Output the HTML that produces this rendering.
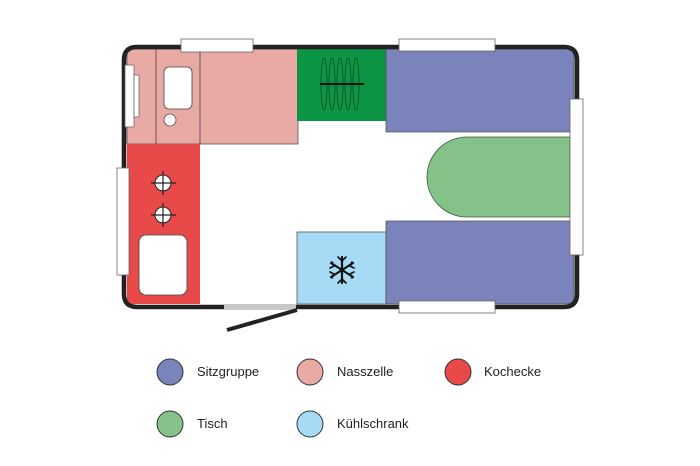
<!DOCTYPE html>
<html><head><meta charset="utf-8"><style>
html,body{margin:0;padding:0;background:#fff;}
svg{display:block;}
text{font-family:"Liberation Sans",sans-serif;font-size:13px;fill:#222;}
</style></head><body>
<svg width="700" height="466" viewBox="0 0 700 466" xmlns="http://www.w3.org/2000/svg">
<rect x="127" y="49" width="171" height="95" fill="#e9a9a5" stroke="#555" stroke-width="0.8"/>
<line x1="156" y1="49" x2="156" y2="144" stroke="#444" stroke-width="0.8"/>
<line x1="200" y1="49" x2="200" y2="144" stroke="#444" stroke-width="0.8"/>
<rect x="164" y="67" width="28" height="42" rx="5" fill="#fff" stroke="#444" stroke-width="0.8"/>
<circle cx="170" cy="120" r="6" fill="#fff" stroke="#444" stroke-width="0.8"/>
<rect x="127" y="144" width="73" height="160" fill="#e84a4a"/>
<circle cx="163" cy="183" r="8" fill="#fff" stroke="#222"/>
<line x1="151" y1="183" x2="176" y2="183" stroke="#222" stroke-width="1.2"/>
<line x1="163" y1="171" x2="163" y2="195" stroke="#222" stroke-width="1.2"/>
<circle cx="163" cy="215" r="8" fill="#fff" stroke="#222"/>
<line x1="151" y1="215" x2="176" y2="215" stroke="#222" stroke-width="1.2"/>
<line x1="163" y1="203" x2="163" y2="227" stroke="#222" stroke-width="1.2"/>
<rect x="139" y="235" width="48" height="60" rx="7" fill="#fff" stroke="#444" stroke-width="0.8"/>
<rect x="297" y="49" width="89" height="72" fill="#0b9444"/>
<g fill="none" stroke="#0a4020" stroke-width="0.7">
<ellipse cx="324" cy="84" rx="3" ry="26"/><ellipse cx="332" cy="84" rx="3" ry="26"/><ellipse cx="340" cy="84" rx="3" ry="26"/><ellipse cx="348" cy="84" rx="3" ry="26"/><ellipse cx="356" cy="84" rx="3" ry="26"/>
</g>
<line x1="320" y1="84" x2="364" y2="84" stroke="#111" stroke-width="2"/>
<rect x="297" y="232" width="89" height="72" fill="#a6daf5" stroke="#555" stroke-width="0.8"/>
<g stroke="#111" stroke-width="2.2" stroke-linecap="round" fill="none">
<line x1="342" y1="257" x2="342" y2="283"/><line x1="331" y1="263" x2="353" y2="277"/><line x1="331" y1="277" x2="353" y2="263"/>
<path d="M338 257 L342 261 L346 257 M338 283 L342 279 L346 283" stroke-width="1.6"/>
<path d="M330 268 L334 266 L332 262 M354 268 L350 266 L352 262 M330 272 L334 274 L332 278 M354 272 L350 274 L352 278" stroke-width="1.6"/>
</g>
<path d="M386 49 H566 Q574 49 574 57 V132 H386 Z" fill="#7a83bb" stroke="#555" stroke-width="0.8"/>
<path d="M386 221 H574 V296 Q574 304 566 304 H386 Z" fill="#7a83bb" stroke="#555" stroke-width="0.8"/>
<path d="M467 137 H570 V217 H467 A40 40 0 0 1 467 137 Z" fill="#84c28a" stroke="#3a5a3a" stroke-width="0.8"/>
<path d="M224 307 H137 Q124 307 124 294 V60 Q124 47 137 47 H564 Q577 47 577 60 V294 Q577 307 564 307 H296" fill="none" stroke="#222" stroke-width="4.6"/>
<rect x="224" y="304" width="72" height="6" fill="#c8c8c8"/>
<line x1="297" y1="310" x2="227" y2="330" stroke="#222" stroke-width="4"/>
<g fill="#fff" stroke="#666" stroke-width="0.8">
<rect x="181" y="39" width="72" height="13"/>
<rect x="399" y="39" width="96" height="12"/>
<rect x="399" y="301" width="96" height="12"/>
<rect x="570" y="99" width="13" height="156"/>
<rect x="117" y="168" width="12" height="107"/>
<rect x="125" y="65" width="9" height="62"/>
<rect x="134" y="75" width="5" height="42"/>
</g>
<g stroke="#333" stroke-width="1">
<circle cx="170" cy="372" r="13" fill="#7a83bb"/>
<circle cx="310" cy="372" r="13" fill="#e9a9a5"/>
<circle cx="458" cy="372" r="13" fill="#e84a4a"/>
<circle cx="170" cy="424" r="13" fill="#84c28a"/>
<circle cx="310" cy="424" r="13" fill="#a6daf5"/>
</g>
<text x="197" y="376">Sitzgruppe</text>
<text x="337" y="376">Nasszelle</text>
<text x="484" y="376">Kochecke</text>
<text x="197" y="428">Tisch</text>
<text x="337" y="428">Kühlschrank</text>
</svg>
</body></html>
